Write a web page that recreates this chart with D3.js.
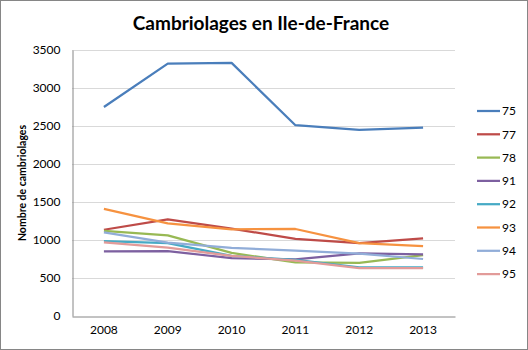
<!DOCTYPE html>
<html><head><meta charset="utf-8">
<script src="https://cdn.jsdelivr.net/npm/d3@7"></script>
<style>body{margin:0;background:#fff}svg{display:block}</style>
</head><body>
<script>
const years = ["2008","2009","2010","2011","2012","2013"];
const seriesNames = ["75","77","78","91","92","93","94","95"];
const s75 = [2750,3320,3330,2510,2450,2480];
const s77 = [1135,1270,1150,1015,960,1020];
const s78 = [1120,1060,830,705,700,800];
const s91 = [850,855,760,745,825,810];
const s92 = [985,960,790,740,640,640];
const s93 = [1410,1220,1140,1145,960,920];
const s94 = [1100,965,895,860,820,750];
const s95 = [970,900,790,730,630,630];
const yTicks = [0,500,1000,1500,2000,2500,3000,3500];
const colors = ["#4A7EBB","#BE4B48","#98B954","#7D60A0","#46AAC5","#F69240","#91ADD8","#E29B99"];
const allSeries = [s75,s77,s78,s91,s92,s93,s94,s95];

const W=528,H=350;
const svg=d3.select("body").append("svg").attr("width",W).attr("height",H);
svg.append("rect").attr("x",0.5).attr("y",0.5).attr("width",W-1).attr("height",H-1).attr("fill","#fff").attr("stroke","#868686");

const font="Lato, 'Open Sans', sans-serif";
const x=d3.scaleBand().domain(years).range([72,455]);
const y=d3.scaleLinear().domain([0,3500]).range([316,50]);

// gridlines
svg.append("g").selectAll("line").data(yTicks.filter(d=>d>0)).join("line")
  .attr("x1",72).attr("x2",455).attr("y1",d=>Math.round(y(d))+0.5).attr("y2",d=>Math.round(y(d))+0.5)
  .attr("stroke","#D9D9D9").attr("stroke-width",1);

// y axis
const ya=svg.append("g").attr("transform","translate(72.5,0)")
  .call(d3.axisLeft(y).tickValues(yTicks).tickSize(0).tickPadding(12).tickFormat(d3.format("d")));
ya.select(".domain").attr("stroke","#868686");
ya.selectAll("text").attr("font-family",font).attr("font-size",12).attr("fill","#000");

// x axis
const xa=svg.append("g").attr("transform","translate(0,316.5)")
  .call(d3.axisBottom(x).tickSize(0).tickPadding(9));
xa.select(".domain").attr("stroke","#868686");
xa.selectAll("text").attr("font-family",font).attr("font-size",12).attr("fill","#000");

// lines
const line=d3.line().x((d,i)=>x(years[i])+x.bandwidth()/2).y(d=>y(d));
svg.append("g").selectAll("path").data(allSeries).join("path")
  .attr("d",line).attr("fill","none").attr("stroke",(d,i)=>colors[i]).attr("stroke-width",2.25)
  .attr("stroke-linejoin","round");

// title
svg.append("text").attr("x",261).attr("y",30).attr("text-anchor","middle")
  .attr("font-family",font).attr("font-weight","bold").attr("font-size",19).text("Cambriolages en Ile-de-France");

// y axis title
svg.append("text").attr("transform","translate(26,183) rotate(-90)").attr("text-anchor","middle")
  .attr("font-family",font).attr("font-weight","bold").attr("font-size",10.5).text("Nombre de cambriolages");

// legend
const lg=svg.append("g").selectAll("g").data(seriesNames).join("g")
  .attr("transform",(d,i)=>`translate(477,${111+i*23.3})`);
lg.append("line").attr("x1",0).attr("x2",23).attr("stroke",(d,i)=>colors[i]).attr("stroke-width",2.25);
lg.append("text").attr("x",25).attr("dy","0.35em").attr("font-family",font).attr("font-size",12).text(d=>d);
</script>
</body></html>
